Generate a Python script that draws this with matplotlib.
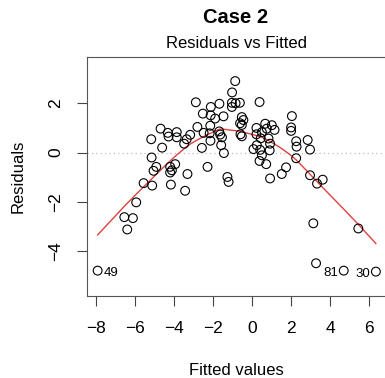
import numpy as np
import matplotlib
matplotlib.use("Agg")
import matplotlib.pyplot as plt

plt.rcParams['font.family'] = ['Liberation Sans', 'DejaVu Sans']

# fitted values / residuals of the model (unlabelled observations)
fittedVals = [
    -6.56, -6.12, -6.41, -5.95, -5.57, -5.13, -5.06, -4.92, -5.16, -4.62,
    -5.18, -4.70, -4.33, -3.87, -4.29, -3.87, -4.21, -3.95, -4.12, -4.21,
    -4.17, -3.44, -3.32, -3.49, -3.36, -3.18, -2.89, -2.12, -1.68, -2.53,
    -2.13, -1.90, -1.47, -2.81, -2.15, -2.49, -2.18, -1.69, -1.55, -1.64,
    -2.14, -2.58, -1.59, -1.45, -2.29, -1.27, -1.21, -0.87, -1.03, -1.04,
    -0.85, -0.63, -1.04, 0.38, -0.53, -0.45, -0.62, -0.53, -0.60, -0.53,
    0.22, 0.22, 0.67, 1.01, 1.15, 0.75, 0.50, 0.44, 0.84, 0.92,
    0.24, 0.07, 0.41, 0.50, 0.90, 0.38, 0.72, 2.04, 2.00, 2.00,
    2.26, 2.28, 2.85, 2.97, 2.26, 1.74, 1.52, 0.92, 2.97, 3.33,
    3.62, 3.14, 5.45, 3.28,
]
residualVals = [
    -2.62, -2.66, -3.12, -2.02, -1.24, -1.34, -0.74, -0.58, -0.20, 0.20,
    0.54, 0.97, 0.80, 0.83, 0.65, 0.62, -0.58, -0.47, -0.72, -0.81,
    -1.30, -1.55, -0.87, 0.36, 0.54, 0.72, 2.04, 1.85, 1.98, 1.58,
    1.51, 1.38, 1.47, 1.04, 1.09, 0.80, 0.78, 0.86, 0.62, 0.73,
    0.48, 0.19, 0.30, -0.02, -0.58, -0.99, -1.19, 2.90, 2.44, 2.02,
    2.00, 2.02, 1.85, 2.05, 1.44, 1.32, 1.19, 1.12, 0.74, 0.66,
    1.00, 0.74, 1.17, 1.11, 0.92, 0.97, 0.83, 0.58, 0.57, 0.36,
    0.30, 0.14, 0.11, -0.11, 0.09, -0.34, -0.47, 1.48, 1.02, 0.88,
    0.46, 0.24, 0.51, 0.12, -0.23, -0.60, -0.87, -1.05, -0.92, -1.26,
    -1.10, -2.87, -3.08, -4.49,
]

# the three observations with the largest residuals
idNames = ["49", "81", "30"]
idFitted = [-7.93, 4.70, 6.35]
idResid = [-4.79, -4.79, -4.83]


def lowess(x, y, f=2/3, iters=3):
    order = np.argsort(x)
    x = np.asarray(x, float)[order]
    y = np.asarray(y, float)[order]
    n = len(x)
    r = int(round(f * n))
    h = np.array([np.sort(np.abs(x - x[i]))[r - 1] for i in range(n)])
    w = np.clip(np.abs((x[:, None] - x[None, :]) / h[None, :]), 0.0, 1.0)
    w = (1 - w ** 3) ** 3
    yest = np.zeros(n)
    delta = np.ones(n)
    for _ in range(iters + 1):
        for i in range(n):
            wt = delta * w[:, i]
            A = np.array([[wt.sum(), (wt * x).sum()],
                          [(wt * x).sum(), (wt * x * x).sum()]])
            b = np.array([(wt * y).sum(), (wt * y * x).sum()])
            beta = np.linalg.solve(A, b)
            yest[i] = beta[0] + beta[1] * x[i]
        res = y - yest
        s = np.median(np.abs(res))
        delta = np.clip(res / (6.0 * s), -1, 1)
        delta = (1 - delta ** 2) ** 2
    return x, yest


allX = np.array(fittedVals + idFitted)
allY = np.array(residualVals + idResid)

fig = plt.figure(figsize=(3.85, 3.78), dpi=100)
ax = fig.add_axes([0.2247, 0.2177, 0.7805, 0.6315])

ax.axhline(0, color='#bdbdbd', lw=0.9, ls=(0, (1, 2.5)), zorder=1)
ax.scatter(allX, allY, s=40, facecolors='none', edgecolors='black', linewidths=0.8, zorder=3)

sx, sy = lowess(allX, allY)
ax.plot(sx, sy, color='#e0403f', lw=1.0, zorder=2)

for name, fx, ry in zip(idNames, idFitted, idResid):
    if fx < np.mean(allX):
        ax.annotate(name, (fx, ry), xytext=(4, -1.5), textcoords='offset points',
                    ha='left', va='center', fontsize=9.5)
    else:
        ax.annotate(name, (fx, ry), xytext=(-4, -1.5), textcoords='offset points',
                    ha='right', va='center', fontsize=9.5)

# R style limits: 4% padding, y range widened for the id labels
xr = allX.max() - allX.min()
ax.set_xlim(allX.min() - 0.04 * xr, allX.max() + 0.04 * xr)
ylo, yhi = allY.min(), allY.max()
yr = yhi - ylo
ylo, yhi = ylo - 0.08 * yr, yhi + 0.08 * yr
yr = yhi - ylo
ax.set_ylim(ylo - 0.04 * yr, yhi + 0.04 * yr)

ax.set_xticks([-8, -6, -4, -2, 0, 2, 4, 6])
ax.set_yticks([-4, -2, 0, 2])
ax.tick_params(length=7, width=0.8, color='#444444', labelsize=12.5, pad=10)
ax.tick_params(axis='x', pad=11)
for lab in ax.get_yticklabels():
    lab.set_rotation(90)
    lab.set_va('center')
for sp in ax.spines.values():
    sp.set_color('#555555')
    sp.set_linewidth(0.8)

ax.set_xlabel("Fitted values", fontsize=12, labelpad=20)
ax.set_ylabel("Residuals", fontsize=12, labelpad=16)
fig.text(0.613, 0.955, "Case 2", ha='center', va='center', fontsize=14.5, fontweight='bold')
fig.text(0.613, 0.886, "Residuals vs Fitted", ha='center', va='center', fontsize=12)

fig.savefig("out.png", dpi=100)
